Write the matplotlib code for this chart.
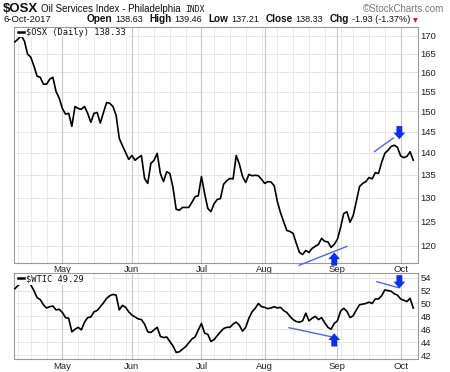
import numpy as np
import pandas as pd
import matplotlib
matplotlib.use("Agg")
import matplotlib.pyplot as plt
from matplotlib.ticker import FixedLocator, NullLocator, FuncFormatter

# ---------------- data ----------------
holidays = ["2017-04-14", "2017-05-29", "2017-07-04", "2017-09-04"]
dates = pd.bdate_range("2017-04-07", "2017-10-06").drop(pd.to_datetime(holidays))

osx = [168.3, 169.1, 170.0, 168.5, 164.9, 164.1, 161.7, 159.0, 158.7, 156.9,
       156.9, 158.2, 158.7, 155.0, 153.3, 150.7, 149.3, 149.5, 146.3, 151.2,
       150.7, 150.5, 151.2, 149.5, 147.3, 149.5, 149.7, 147.1, 149.7, 152.2,
       152.0, 151.2, 149.0, 143.4, 141.7, 140.1, 138.5, 139.4, 138.3, 138.9,
       139.4, 134.2, 133.1, 137.6, 138.3, 139.9, 135.3, 133.5, 135.7, 135.3,
       132.2, 127.5, 127.3, 127.9, 127.9, 127.9, 129.0, 130.2, 130.4, 134.6,
       130.9, 127.7, 127.0, 128.7, 129.6, 129.8, 132.9, 133.7, 134.2, 134.1,
       139.4, 137.4, 134.6, 133.3, 135.1, 134.8, 134.9, 134.8, 134.0, 133.1,
       133.5, 133.4, 132.6, 129.2, 126.8, 124.9, 123.1, 122.9, 122.5, 120.5,
       118.7, 118.3, 119.1, 118.7, 119.5, 119.9, 120.3, 121.5, 120.9, 120.8,
       119.7, 120.3, 121.3, 123.7, 126.6, 127.0, 124.8, 126.2, 129.2, 132.4,
       133.1, 133.5, 134.4, 134.1, 135.5, 135.3, 137.8, 139.9, 140.6, 141.5,
       141.8, 141.3, 139.3, 138.9, 139.2, 140.26, 138.33]

wtic = [52.3, 52.8, 53.2, 53.3, 53.2, 52.9, 52.0, 50.9, 50.6, 49.8,
        49.3, 49.5, 49.6, 49.0, 49.1, 48.6, 47.8, 47.7, 45.6, 46.0,
        46.3, 45.9, 47.1, 47.8, 47.9, 48.7, 48.9, 49.5, 50.1, 50.8,
        51.2, 51.4, 51.3, 49.0, 49.7, 49.4, 48.7, 48.2, 47.9, 47.6,
        47.5, 46.8, 45.6, 45.5, 45.9, 46.3, 44.9, 44.7, 44.8, 44.1,
        43.4, 42.4, 42.5, 42.9, 43.3, 43.9, 44.5, 44.8, 45.9, 46.9,
        45.4, 45.2, 44.1, 44.4, 45.0, 45.6, 46.1, 46.3, 46.3, 46.8,
        47.1, 46.6, 45.7, 46.3, 47.7, 48.7, 49.25, 50.0, 49.5, 49.4,
        49.2, 49.3, 49.5, 49.3, 49.4, 48.9, 48.6, 48.0, 47.5, 47.2,
        47.1, 47.3, 48.5, 47.3, 47.7, 48.0, 47.5, 47.8, 47.0, 46.3,
        46.0, 46.9, 47.3, 48.8, 49.25, 48.8, 47.8, 48.1, 49.0, 49.8,
        49.9, 50.0, 50.2, 50.0, 50.7, 50.7, 51.2, 52.1, 52.0, 51.9,
        51.5, 51.3, 50.7, 50.5, 50.3, 50.8, 49.29]

osx_ticks = [120, 125, 130, 135, 140, 145, 150, 155, 160, 165, 170]
wtic_ticks = [42, 44, 46, 48, 50, 52, 54]
month_labels = ["May", "Jun", "Jul", "Aug", "Sep", "Oct"]

# annotations: trading-day position, value
osx_line_hi_pos, osx_line_hi_val = [113.7, 119.7], [140.3, 143.5]
osx_line_lo_pos, osx_line_lo_val = [89.9, 105.0], [116.2, 119.9]
wtic_line_lo_pos, wtic_line_lo_val = [86.7, 100.0], [46.24, 44.84]
wtic_line_hi_pos, wtic_line_hi_val = [114.5, 121.3], [53.38, 52.45]
arrow_pos = [121.6, 101.0]          # down arrow, up arrow
osx_arrow_tip = [143.2, 118.7]
wtic_arrow_tip = [52.35, 45.37]

assert len(dates) == len(osx) == len(wtic)

# ---------------- figure ----------------
W, H = 450, 372
fig = plt.figure(figsize=(W / 100, H / 100), dpi=100)
fig.patch.set_facecolor("white")
renderer = fig.canvas.get_renderer()

def rect(l, t, r, b):
    return [l / W, 1 - b / H, (r - l) / W, (b - t) / H]

ax1 = fig.add_axes(rect(14, 27, 418, 262.7))
ax2 = fig.add_axes(rect(14, 273, 418, 359))

x = np.arange(len(dates))
month_start = [i for i in range(1, len(dates)) if dates[i].month != dates[i - 1].month]
week_start = [i for i in range(1, len(dates)) if dates[i].weekday() < dates[i - 1].weekday()]

FONT = "Liberation Sans"
BLUE_LINE = "#4f63f0"
BLUE_ARROW = "#0b2df5"

def style(ax, ticks, lo, hi, log=False):
    if log:
        ax.set_yscale("log")
    ax.set_ylim(lo, hi)
    ax.set_xlim(-0.3, 127.5)
    ax.yaxis.set_major_locator(FixedLocator(ticks))
    ax.yaxis.set_minor_locator(NullLocator())
    ax.yaxis.set_major_formatter(FuncFormatter(lambda v, p: f"{v:.0f}"))
    ax.yaxis.tick_right()
    ax.tick_params(axis="y", length=0, pad=2, labelsize=6.8, labelcolor="#222222")
    ax.set_xticks(month_start)
    ax.set_xticklabels(month_labels, fontfamily=FONT)
    ax.tick_params(axis="x", length=0, pad=2, labelsize=6.8, labelcolor="#222222")
    for lab in ax.get_yticklabels():
        lab.set_fontfamily(FONT)
    for t in ticks:
        ax.axhline(t, color="#e2e2e2", lw=0.6, zorder=0)
    for i in week_start:
        ax.axvline(i, color="#e6e6e6", lw=0.6, zorder=0)
    for i in month_start:
        ax.axvline(i, color="#c8c8c8", lw=0.8, zorder=0)
    for s in ax.spines.values():
        s.set_color("#9a9a9a")
        s.set_linewidth(0.8)

style(ax1, osx_ticks, 116.7, 172.5, log=True)
style(ax2, wtic_ticks, 41.38, 54.73)

ax1.plot(x, osx, color="black", lw=1.2, zorder=3)
ax2.plot(x, wtic, color="black", lw=1.2, zorder=3)

# trend lines
ax1.plot(osx_line_hi_pos, osx_line_hi_val, color=BLUE_LINE, lw=1.0, zorder=4, clip_on=False)
ax1.plot(osx_line_lo_pos, osx_line_lo_val, color=BLUE_LINE, lw=1.0, zorder=4, clip_on=False)
ax2.plot(wtic_line_lo_pos, wtic_line_lo_val, color=BLUE_LINE, lw=1.0, zorder=4, clip_on=False)
ax2.plot(wtic_line_hi_pos, wtic_line_hi_val, color=BLUE_LINE, lw=1.0, zorder=4, clip_on=False)

def arrow(ax, xpos, tip, down):
    off = 9.5 if down else -9.5
    ax.annotate("", xy=(xpos, tip), xytext=(0, off), textcoords="offset points",
                arrowprops=dict(arrowstyle="simple,head_length=0.48,head_width=0.85,tail_width=0.42",
                                mutation_scale=10, color=BLUE_ARROW, shrinkA=0, shrinkB=0,
                                lw=0),
                annotation_clip=False, zorder=6)

arrow(ax1, arrow_pos[0], osx_arrow_tip[0], True)
arrow(ax1, arrow_pos[1], osx_arrow_tip[1], False)
arrow(ax2, arrow_pos[0], wtic_arrow_tip[0], True)
arrow(ax2, arrow_pos[1], wtic_arrow_tip[1], False)

# in-panel legends
def legend(txt, top_px, bottom_px, text_right):
    fig.patches.append(plt.Rectangle((16.5 / W, 1 - bottom_px / H), (text_right - 16.5) / W,
                                     (bottom_px - top_px) / H, transform=fig.transFigure,
                                     facecolor="white", edgecolor="none", zorder=5))
    fig.lines.append(plt.Line2D([17.5 / W, 23.5 / W], [1 - (top_px + 4.5) / H] * 2,
                                transform=fig.transFigure, color="black", lw=1.8, zorder=6))
    fig.text(26 / W, 1 - (top_px + 7.5) / H, txt, fontfamily="DejaVu Sans Mono",
             fontsize=6.3, color="#111111", va="baseline", ha="left", zorder=7)

legend("$OSX (Daily) 138.33", 27.6, 37, 128)
legend("$WTIC 49.29", 273.6, 284.5, 92)

# header
def ftext(xp, yp, s, **kw):
    base = dict(fontfamily=FONT, va="baseline", ha="left", color="#111111")
    base.update(kw)
    t = fig.text(xp / W, 1 - yp / H, s, **base)
    return xp + t.get_window_extent(renderer).width

nx = ftext(3, 11.6, "$OSX", fontsize=9.5, fontweight="bold")
nx = ftext(nx + 3, 11.6, "Oil Services Index - Philadelphia", fontsize=7.0)
ftext(nx + 4, 11.6, "INDX", fontsize=5.8, fontfamily="DejaVu Sans Mono")
ftext(444, 11.6, "\u00a9StockCharts.com", fontsize=7.0, color="#777777", ha="right")

ftext(3, 22.5, "6-Oct-2017", fontsize=6.8)
row = [("Open", True), ("138.63", False), ("High", True), ("139.46", False),
       ("Low", True), ("137.21", False), ("Close", True), ("138.33", False),
       ("Chg", True), ("-1.93 (-1.37%)", False)]
nx = 87
for s, bold in row:
    nx = ftext(nx, 22.5, s, fontsize=7.2 if bold else 6.6,
               fontweight="bold" if bold else "normal")
    nx += 3 if bold else 6
fig.text((nx - 3) / W, 1 - 22.0 / H, "\u25bc", fontfamily="DejaVu Sans", fontsize=4.5,
         color="#cc1111", va="baseline", ha="left")

fig.savefig("out.png", dpi=100, facecolor="white")
